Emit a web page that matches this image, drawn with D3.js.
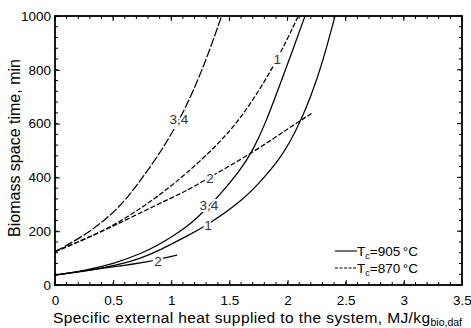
<!DOCTYPE html>
<html>
<head>
<meta charset="utf-8">
<script src="https://cdn.jsdelivr.net/npm/d3@7"></script>
<style>
  html, body { margin: 0; padding: 0; background: #fff; }
  svg { display: block; font-family: "Liberation Sans", Arial, sans-serif; }
</style>
</head>
<body>
<svg id="chart" width="471" height="328"></svg>
<script>
// Specific external heat (MJ/kg bio,daf) vs. biomass space time (min)
// Tc = 905 °C (solid)
const heat905_1  = [0, 0.25, 0.5, 0.75, 0.9, 1.0, 1.12, 1.32, 1.62, 1.8, 1.92, 2.02, 2.11, 2.2, 2.3, 2.408];
const time905_1  = [37, 50, 70, 100, 130, 152, 178, 225, 316, 400, 462, 530, 608, 700, 825, 1000];
const heat905_2  = [0, 0.25, 0.5, 0.82, 0.93, 1.05];
const time905_2  = [37, 53, 67, 87, 100, 111];
const heat905_34 = [0, 0.25, 0.5, 0.75, 0.9, 1.0, 1.12, 1.22, 1.41, 1.6, 1.7, 1.8, 1.935, 2.05, 2.15];
const time905_34 = [37, 53, 78, 118, 152, 178, 213, 248, 330, 430, 500, 590, 745, 880, 1000];
// Tc = 870 °C (dashed)
const heat870_1  = [0, 0.25, 0.5, 0.75, 0.946, 1.118, 1.39, 1.59, 1.75, 1.88, 2.0, 2.092];
const time870_1  = [124, 168, 220, 288, 350, 410, 517, 616, 720, 814, 915, 1000];
const heat870_2  = [0, 0.25, 0.5, 0.9, 1.12, 1.33, 1.7, 2.0, 2.207];
const time870_2  = [124, 170, 218, 304, 347, 400, 492, 580, 638];
const heat870_34 = [0, 0.25, 0.5, 0.66, 0.745, 0.86, 0.946, 1.032, 1.13, 1.247, 1.34, 1.433];
const time870_34 = [124, 182, 265, 345, 395, 465, 522, 585, 665, 780, 885, 1000];

// Curve labels placed on the curves
const labelText  = ["3,4", "1", "2", "3,4", "1", "2"];
const labelHeat  = [1.066, 1.911, 1.333, 1.324, 1.316, 0.886];
const labelTime  = [618, 841, 397, 297, 223, 89];

const xTicks = [0, 0.5, 1, 1.5, 2, 2.5, 3, 3.5];
const yTicks = [0, 200, 400, 600, 800, 1000];

const svg = d3.select("#chart");
const plotL = 55, plotR = 462, plotT = 16, plotB = 285;

const x = d3.scaleLinear().domain([0, 3.5]).range([plotL, plotR]);
const y = d3.scaleLinear().domain([0, 1000]).range([plotB, plotT]);

const zip = (a, b) => a.map((v, i) => [v, b[i]]);
const series = [
  { pts: zip(heat905_1, time905_1), dash: null },
  { pts: zip(heat905_2, time905_2), dash: null },
  { pts: zip(heat905_34, time905_34), dash: null },
  { pts: zip(heat870_1, time870_1), dash: "5,2" },
  { pts: zip(heat870_2, time870_2), dash: "5,2" },
  { pts: zip(heat870_34, time870_34), dash: "9,2" },
];

svg.append("defs").append("clipPath").attr("id", "plotclip")
  .append("rect").attr("x", plotL).attr("y", plotT).attr("width", plotR - plotL).attr("height", plotB - plotT);

const line = d3.line().x(d => x(d[0])).y(d => y(d[1])).curve(d3.curveBasis);

const g = svg.append("g").attr("clip-path", "url(#plotclip)");
g.selectAll("path.curve").data(series).join("path")
  .attr("class", "curve")
  .attr("d", d => line(d.pts))
  .attr("fill", "none")
  .attr("stroke", "#000")
  .attr("stroke-width", 1.25)
  .attr("stroke-dasharray", d => d.dash);

// Curve labels with a white halo that breaks the line
svg.selectAll("text.clabel").data(labelText).join("text")
  .attr("class", "clabel")
  .attr("x", (d, i) => x(labelHeat[i]))
  .attr("y", (d, i) => y(labelTime[i]))
  .attr("dy", "0.36em")
  .attr("text-anchor", "middle")
  .attr("font-size", 13.5)
  .attr("fill", "#333")
  .attr("stroke", "#fff")
  .attr("stroke-width", 4)
  .attr("paint-order", "stroke")
  .text(d => d);

// Axes: inward ticks on all four sides
const xMinor = d3.range(0, 3.5001, 0.1);
const yMinor = d3.range(0, 1000.1, 40);

const axB = d3.axisBottom(x).tickValues(xTicks).tickSizeInner(-5).tickSizeOuter(0)
  .tickFormat(d3.format("~g")).tickPadding(10.5);
const axL = d3.axisLeft(y).tickValues(yTicks).tickSizeInner(-5).tickSizeOuter(0)
  .tickFormat(d3.format("d")).tickPadding(4);

const gB = svg.append("g").attr("transform", `translate(0,${plotB})`).call(axB);
const gL = svg.append("g").attr("transform", `translate(${plotL},0)`).call(axL);
[gB, gL].forEach(a => {
  a.select(".domain").remove();
  a.selectAll("text").attr("font-size", 13.5).attr("font-family", "'Liberation Sans', Arial, sans-serif").attr("fill", "#000");
});

const ticks = svg.append("g").attr("stroke", "#000").attr("stroke-width", 1);
ticks.selectAll("line.xb").data(xMinor).join("line").attr("class", "xb")
  .attr("x1", d => x(d)).attr("x2", d => x(d)).attr("y1", plotB).attr("y2", plotB - 3);
ticks.selectAll("line.xt").data(xMinor).join("line").attr("class", "xt")
  .attr("x1", d => x(d)).attr("x2", d => x(d)).attr("y1", plotT).attr("y2", plotT + 3);
ticks.selectAll("line.xtM").data(xTicks).join("line").attr("class", "xtM")
  .attr("x1", d => x(d)).attr("x2", d => x(d)).attr("y1", plotT).attr("y2", plotT + 5);
ticks.selectAll("line.yl").data(yMinor).join("line").attr("class", "yl")
  .attr("y1", d => y(d)).attr("y2", d => y(d)).attr("x1", plotL).attr("x2", plotL + 3);
ticks.selectAll("line.yr").data(yMinor).join("line").attr("class", "yr")
  .attr("y1", d => y(d)).attr("y2", d => y(d)).attr("x1", plotR).attr("x2", plotR - 3);
ticks.selectAll("line.yrM").data(yTicks).join("line").attr("class", "yrM")
  .attr("y1", d => y(d)).attr("y2", d => y(d)).attr("x1", plotR).attr("x2", plotR - 5);

// frame
svg.append("rect").attr("x", plotL).attr("y", plotT)
  .attr("width", plotR - plotL).attr("height", plotB - plotT)
  .attr("fill", "none").attr("stroke", "#000").attr("stroke-width", 1.8);

// axis titles
svg.append("text")
  .attr("transform", `translate(20,148) rotate(-90)`)
  .attr("text-anchor", "middle").attr("font-size", 16).attr("fill", "#000")
  .text("Biomass space time, min");

const xt = svg.append("text").attr("x", 53).attr("y", 323).attr("font-size", 15.5).attr("fill", "#000");
xt.append("tspan").attr("letter-spacing", 0.4).text("Specific external heat supplied to the system, MJ/kg");
xt.append("tspan").attr("dy", 3).attr("font-size", 10.5).text("bio,daf");

// legend
const legendTemp = ["905", "870"];
const legendDash = [null, "3,1.5"];
const lg = svg.append("g");
legendTemp.forEach((t, i) => {
  const yy = 251 + i * 17;
  lg.append("line").attr("x1", 335).attr("x2", 357).attr("y1", yy).attr("y2", yy)
    .attr("stroke", "#000").attr("stroke-width", 1.1).attr("stroke-dasharray", legendDash[i]);
  const tx = lg.append("text").attr("x", 357).attr("y", yy).attr("dy", "0.36em")
    .attr("font-size", 13.5).attr("fill", "#000");
  tx.append("tspan").text("T");
  tx.append("tspan").attr("font-size", 9).attr("dy", 3).text("c");
  tx.append("tspan").attr("dy", -3).text("=" + t + "\u2009\u00B0C");
});
</script>
</body>
</html>
